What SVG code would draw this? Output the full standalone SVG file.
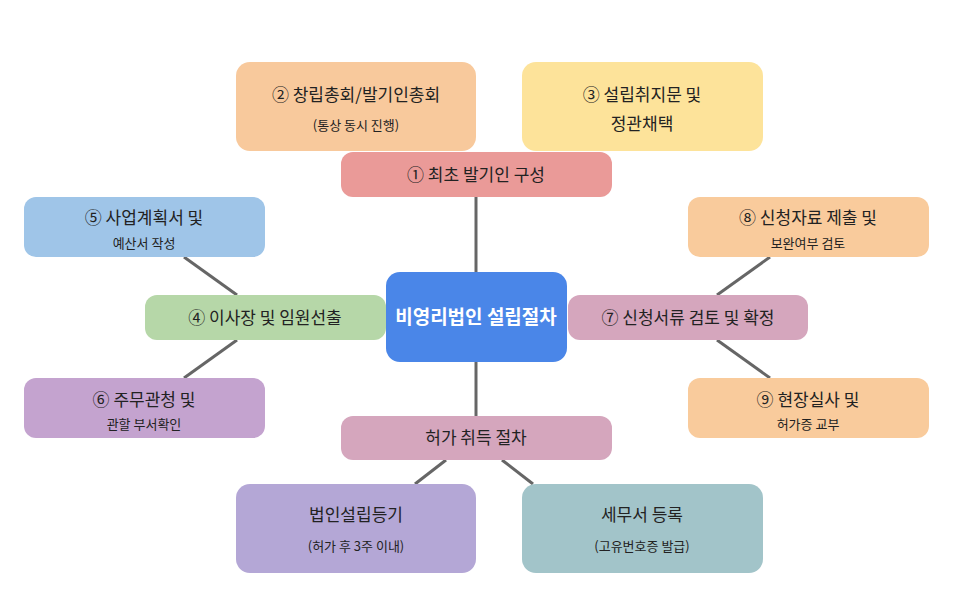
<svg xmlns="http://www.w3.org/2000/svg" width="966" height="615" viewBox="0 0 966 615">
<style>
text{font-family:"Noto Sans CJK KR","Noto Sans",sans-serif;fill:#222;text-anchor:middle}
.m{font-size:17px}.s{font-size:13px}
.c{stroke:#666;stroke-width:3;fill:none}
</style>
<defs><clipPath id="cc"><rect x="386" y="272" width="181" height="90" rx="14"/></clipPath></defs>
<rect width="966" height="615" fill="#fff"/>
<g id="connectors">
<line class="c" x1="476" y1="197" x2="476" y2="272"/>
<line class="c" x1="476" y1="362" x2="476" y2="416"/>
<line class="c" x1="237" y1="295" x2="184" y2="257"/>
<line class="c" x1="237" y1="340" x2="184" y2="378"/>
<line class="c" x1="717" y1="295" x2="770" y2="257"/>
<line class="c" x1="717" y1="340" x2="770" y2="378"/>
<line class="c" x1="446" y1="460" x2="415" y2="484"/>
<line class="c" x1="502" y1="460" x2="533" y2="484"/>
</g>
<g id="n2"><rect x="236" y="62" width="240" height="89" rx="14" fill="#f8c99c"/><text class="m" x="356" y="101">② 창립총회/발기인총회</text><text class="s" x="356" y="130">(통상 동시 진행)</text></g>
<g id="n3"><rect x="522" y="62" width="241" height="89" rx="14" fill="#fde39a"/><text class="m" x="642" y="101">③ 설립취지문 및</text><text class="m" x="642" y="130">정관채택</text></g>
<g id="n1"><rect x="341" y="152" width="271" height="45" rx="12" fill="#ea9a98"/><text class="m" x="476" y="181">① 최초 발기인 구성</text></g>
<g id="n5"><rect x="24" y="197" width="241" height="60" rx="12" fill="#9fc5e8"/><text class="m" x="144" y="224">⑤ 사업계획서 및</text><text class="s" x="144" y="248">예산서 작성</text></g>
<g id="n4"><rect x="145" y="295" width="241" height="45" rx="12" fill="#b6d7a8"/><text class="m" x="265" y="324">④ 이사장 및 임원선출</text></g>
<g id="n6"><rect x="24" y="378" width="241" height="60" rx="12" fill="#c4a3cf"/><text class="m" x="144" y="406">⑥ 주무관청 및</text><text class="s" x="144" y="429">관할 부서확인</text></g>
<g id="center"><rect x="386" y="272" width="181" height="90" rx="14" fill="#4a86e8"/><text clip-path="url(#cc)" x="476" y="324" style="font-size:19px;font-weight:bold;fill:#fff">비영리법인 설립절차</text></g>
<g id="n7"><rect x="568" y="295" width="240" height="45" rx="12" fill="#d5a6bd"/><text class="m" x="688" y="324">⑦ 신청서류 검토 및 확정</text></g>
<g id="n8"><rect x="688" y="197" width="241" height="60" rx="12" fill="#f9cb9c"/><text class="m" x="808" y="224">⑧ 신청자료 제출 및</text><text class="s" x="808" y="248">보완여부 검토</text></g>
<g id="n9"><rect x="688" y="378" width="241" height="60" rx="12" fill="#f9cb9c"/><text class="m" x="808" y="406">⑨ 현장실사 및</text><text class="s" x="808" y="429">허가증 교부</text></g>
<g id="n10"><rect x="341" y="416" width="271" height="44" rx="12" fill="#d5a6bd"/><text class="m" x="476" y="444">허가 취득 절차</text></g>
<g id="n11"><rect x="236" y="484" width="240" height="89" rx="14" fill="#b4a7d6"/><text class="m" x="356" y="521">법인설립등기</text><text class="s" x="356" y="551">(허가 후 3주 이내)</text></g>
<g id="n12"><rect x="522" y="484" width="241" height="89" rx="14" fill="#a2c4c9"/><text class="m" x="642" y="521">세무서 등록</text><text class="s" x="642" y="551">(고유번호증 발급)</text></g>
</svg>
